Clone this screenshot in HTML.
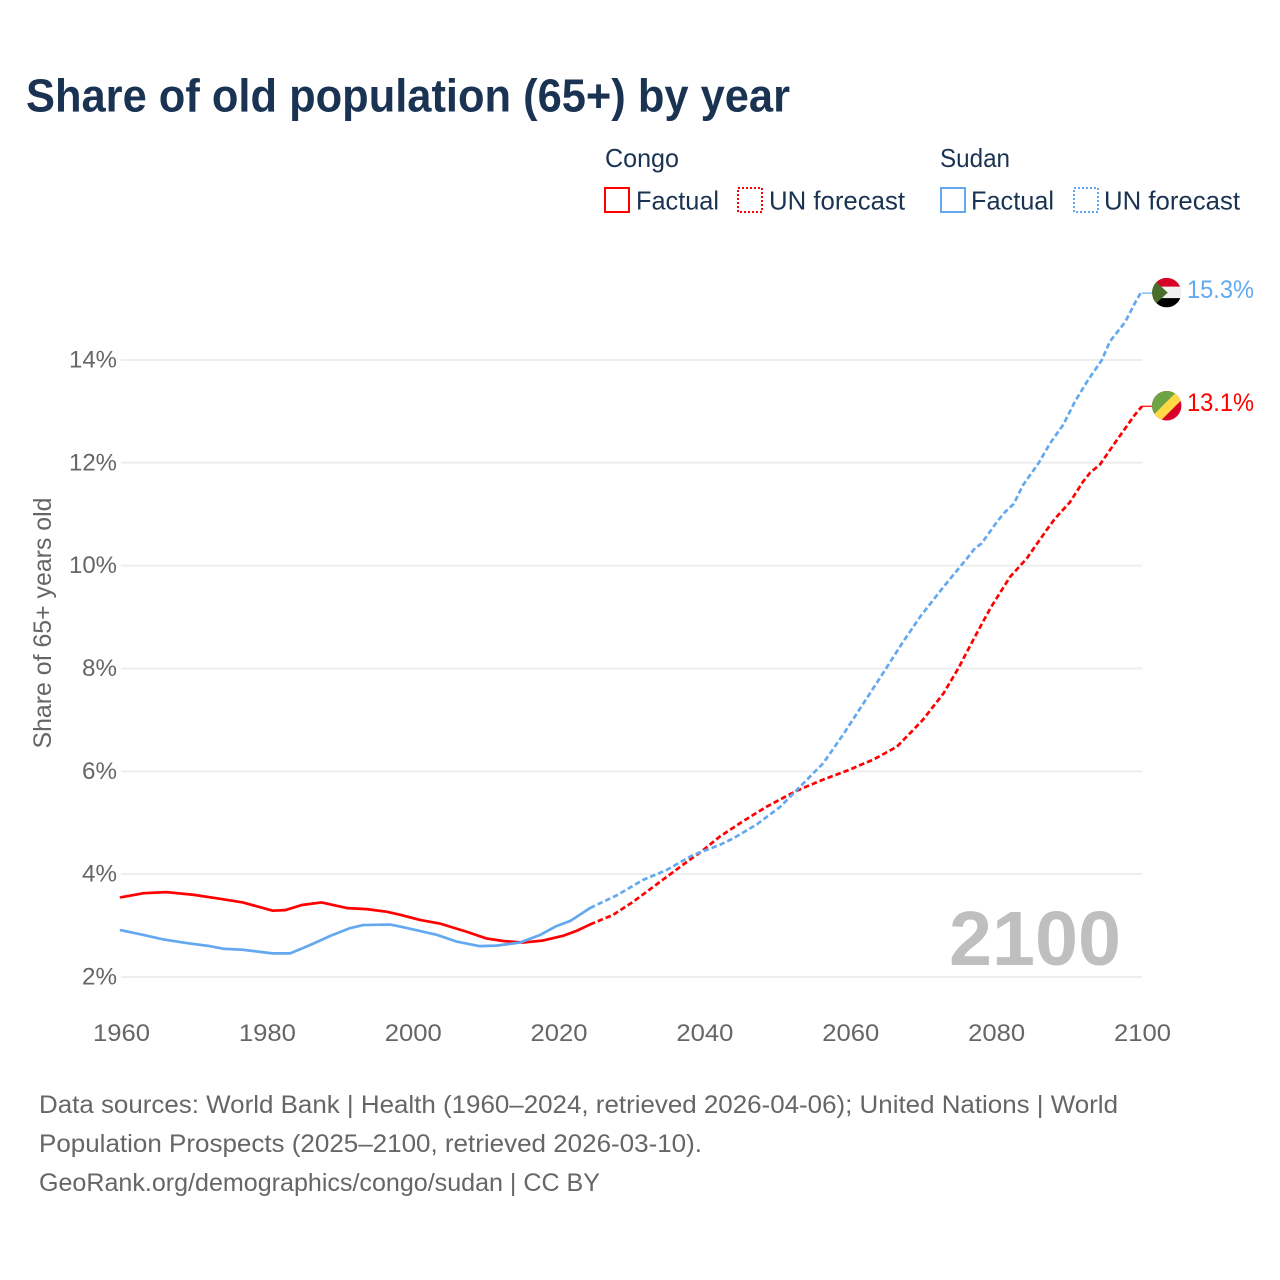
<!DOCTYPE html>
<html lang="en">
<head>
<meta charset="utf-8">
<title>Share of old population (65+) by year</title>
<style>
html,body{margin:0;padding:0;background:#fff;}
svg{display:block;font-family:"Liberation Sans",sans-serif;}
</style>
</head>
<body>
<svg id="chart" width="1280" height="1280" viewBox="0 0 1280 1280" xmlns="http://www.w3.org/2000/svg">
  <rect x="0" y="0" width="1280" height="1280" fill="#ffffff"/>
  <text x="26" y="111.5" font-size="46" font-weight="700" fill="#1a3352" textLength="764" lengthAdjust="spacingAndGlyphs">Share of old population (65+) by year</text>

  <g font-size="26" fill="#1a3352">
    <text x="605" y="167" textLength="74" lengthAdjust="spacingAndGlyphs">Congo</text>
    <rect x="605" y="188" width="24" height="24" fill="none" stroke="#ff0000" stroke-width="2"/>
    <text x="636" y="209.5" textLength="83" lengthAdjust="spacingAndGlyphs">Factual</text>
    <rect x="738" y="188" width="24" height="24" fill="none" stroke="#ff0000" stroke-width="2" stroke-dasharray="2 2"/>
    <text x="769" y="209.5" textLength="136" lengthAdjust="spacingAndGlyphs">UN forecast</text>
    <text x="940" y="167" textLength="70" lengthAdjust="spacingAndGlyphs">Sudan</text>
    <rect x="941" y="188" width="24" height="24" fill="none" stroke="#64a9f0" stroke-width="2"/>
    <text x="971" y="209.5" textLength="83" lengthAdjust="spacingAndGlyphs">Factual</text>
    <rect x="1074" y="188" width="24" height="24" fill="none" stroke="#64a9f0" stroke-width="2" stroke-dasharray="2 2"/>
    <text x="1104" y="209.5" textLength="136" lengthAdjust="spacingAndGlyphs">UN forecast</text>
  </g>

  <g id="grid"></g>
  <g id="yticks" font-size="24" fill="#666666" text-anchor="end"></g>
  <g id="xticks" font-size="24" fill="#666666" text-anchor="middle"></g>

  <text transform="translate(51,623) rotate(-90)" font-size="25" fill="#666666" text-anchor="middle" textLength="251" lengthAdjust="spacingAndGlyphs">Share of 65+ years old</text>

  <text x="949" y="965" font-size="77" font-weight="700" fill="#bfbfbf" textLength="172" lengthAdjust="spacingAndGlyphs">2100</text>

  <g id="series"></g>

  <defs>
    <clipPath id="flag-clip"><circle cx="0" cy="0" r="14.7"/></clipPath>
  </defs>
  <g id="flag-sudan">
    <g clip-path="url(#flag-clip)">
      <rect x="-15" y="-15" width="30" height="30" fill="#f0f0f0"/>
      <rect x="-15" y="-15" width="30" height="9" fill="#d80027"/>
      <rect x="-15" y="5.5" width="30" height="10" fill="#000000"/>
      <polygon points="-15,-15 1,0 -15,15" fill="#496e2d"/>
    </g>
  </g>
  <g id="flag-congo">
    <g clip-path="url(#flag-clip)">
      <rect x="-15" y="-15" width="30" height="30" fill="#d80027"/>
      <polygon points="-15,-15 15,-15 -15,15" fill="#6da544"/>
      <polygon points="13,-15 15,-15 15,-6 -6,15 -15,15 -15,11 11,-15" fill="#ffda44"/>
    </g>
  </g>
  <text id="label-sudan" x="1187" font-size="25" fill="#64a9f0" textLength="67" lengthAdjust="spacingAndGlyphs"></text>
  <text id="label-congo" x="1187" font-size="25" fill="#ff0000" textLength="67" lengthAdjust="spacingAndGlyphs"></text>

  <g font-size="25" fill="#666666">
    <text x="39" y="1113" textLength="1079" lengthAdjust="spacingAndGlyphs">Data sources: World Bank | Health (1960–2024, retrieved 2026-04-06); United Nations | World</text>
    <text x="39" y="1152" textLength="663" lengthAdjust="spacingAndGlyphs">Population Prospects (2025–2100, retrieved 2026-03-10).</text>
    <text x="39" y="1191" textLength="561" lengthAdjust="spacingAndGlyphs">GeoRank.org/demographics/congo/sudan | CC BY</text>
  </g>
</svg>
<script>
const yTickValues = [2, 4, 6, 8, 10, 12, 14];
const xTickValues = [1960, 1980, 2000, 2020, 2040, 2060, 2080, 2100];

const congoFactualYears = [1960, 1963.1, 1966.3, 1969.9, 1973.6, 1976.7, 1980.8, 1982.5, 1984.8, 1987.5, 1991, 1993.7, 1996.4, 1998.3, 2001, 2003.7, 2007.4, 2010.1, 2012.4, 2015.1, 2017.9, 2020.6, 2022.5, 2024.3];
const congoFactualValues = [3.55, 3.63, 3.65, 3.60, 3.52, 3.45, 3.29, 3.30, 3.40, 3.45, 3.34, 3.32, 3.27, 3.21, 3.11, 3.04, 2.88, 2.75, 2.70, 2.67, 2.71, 2.80, 2.90, 3.02];
const congoForecastYears = [2024.3, 2027.5, 2030.2, 2033.9, 2037.6, 2039.4, 2042.1, 2045.3, 2048.5, 2052.6, 2056.3, 2059.5, 2063.2, 2066.4, 2068.6, 2070, 2072.8, 2074.8, 2077.1, 2079.2, 2081.9, 2084.2, 2086.9, 2088.1, 2090.1, 2091.9, 2092.9, 2094.2, 2096.1, 2097.7, 2099, 2100];
const congoForecastValues = [3.02, 3.21, 3.46, 3.85, 4.24, 4.42, 4.73, 5.03, 5.31, 5.62, 5.84, 6.01, 6.23, 6.48, 6.80, 7.01, 7.52, 8.00, 8.62, 9.17, 9.78, 10.14, 10.69, 10.92, 11.23, 11.63, 11.81, 11.96, 12.35, 12.67, 12.93, 13.1];

const sudanFactualYears = [1960, 1963, 1965.8, 1969, 1972.2, 1974, 1976.7, 1980.8, 1983.2, 1985.9, 1988.7, 1991.4, 1993.2, 1996.9, 1998.3, 2000.5, 2003.3, 2006, 2009.2, 2011.5, 2014.7, 2017.5, 2019.7, 2021.6, 2024.3];
const sudanFactualValues = [2.91, 2.82, 2.73, 2.66, 2.60, 2.55, 2.53, 2.46, 2.46, 2.62, 2.80, 2.95, 3.01, 3.02, 2.98, 2.91, 2.82, 2.69, 2.60, 2.61, 2.67, 2.82, 2.99, 3.09, 3.34];
const sudanForecastYears = [2024.3, 2028, 2031.6, 2034.8, 2038.4, 2042.1, 2044, 2047.2, 2050.4, 2053.1, 2056.3, 2059, 2061.8, 2064.5, 2067.2, 2069.6, 2072.8, 2076, 2077.1, 2078, 2080.1, 2081.2, 2082.4, 2083.7, 2085.8, 2087.4, 2089.2, 2090.8, 2092.6, 2094.5, 2095.6, 2097.7, 2099, 2099.8, 2100];
const sudanForecastValues = [3.34, 3.59, 3.89, 4.08, 4.37, 4.57, 4.70, 4.97, 5.31, 5.70, 6.16, 6.71, 7.32, 7.91, 8.51, 9.01, 9.59, 10.14, 10.34, 10.43, 10.85, 11.04, 11.20, 11.57, 11.99, 12.38, 12.74, 13.19, 13.61, 14.00, 14.36, 14.74, 15.10, 15.30, 15.3];

const NS = 'http://www.w3.org/2000/svg';
const plotLeft = 121, plotRight = 1142;
function xScale(year) { return plotLeft + (year - 1960) * (plotRight - plotLeft) / 140; }
function yScale(value) { return 977 - (value - 2) * 51.42; }
function make(tag, attrs) {
  const el = document.createElementNS(NS, tag);
  for (const k in attrs) el.setAttribute(k, attrs[k]);
  return el;
}
function linePath(years, values) {
  return years.map(function (yr, i) {
    return (i ? 'L' : 'M') + xScale(yr).toFixed(2) + ' ' + yScale(values[i]).toFixed(2);
  }).join(' ');
}

const grid = document.getElementById('grid');
const yticks = document.getElementById('yticks');
yTickValues.forEach(function (v) {
  const line = make('line', { x1: plotLeft, x2: plotRight, y1: yScale(v), y2: yScale(v), stroke: '#eeeeee', 'stroke-width': 2 });
  
  
  grid.appendChild(line);
  const label = make('text', { x: 117, y: yScale(v) + 7.5, textLength: v >= 10 ? 48 : 35, lengthAdjust: 'spacingAndGlyphs' });
  
  
  label.textContent = v + '%';
  yticks.appendChild(label);
});

const xticks = document.getElementById('xticks');
xTickValues.forEach(function (yr) {
  const label = make('text', { x: xScale(yr) + 0.5, y: 1041, textLength: 57, lengthAdjust: 'spacingAndGlyphs' });
  
  
  label.textContent = yr;
  xticks.appendChild(label);
});

const seriesGroup = document.getElementById('series');
const flagEdge = 1152;
function drawSeries(name, color, fy, fv, py, pv) {
  const solid = make('path', { d: linePath(fy, fv), fill: 'none', stroke: color, 'stroke-width': 2.7, 'stroke-linejoin': 'round', 'stroke-linecap': 'round' });
  
  
  seriesGroup.appendChild(solid);
  const dashed = make('path', { d: linePath(py, pv), fill: 'none', stroke: color, 'stroke-width': 2.7, 'stroke-linejoin': 'round', 'stroke-dasharray': '5.5 3' });
  
  
  seriesGroup.appendChild(dashed);
  const last = pv[pv.length - 1];
  const tail = make('line', { x1: xScale(py[py.length - 1]), x2: flagEdge, y1: yScale(last), y2: yScale(last), stroke: color, 'stroke-width': 1.2 });
  
  
  seriesGroup.appendChild(tail);
}
drawSeries('congo', '#ff0000', congoFactualYears, congoFactualValues, congoForecastYears, congoForecastValues);
drawSeries('sudan', '#64a9f0', sudanFactualYears, sudanFactualValues, sudanForecastYears, sudanForecastValues);

function placeEnd(flagId, labelId, value) {
  const y = yScale(value);
  document.getElementById(flagId).setAttribute('transform', 'translate(1166.7,' + (y - 0.5).toFixed(2) + ')');
  const label = document.getElementById(labelId);
  label.setAttribute('y', (y + 5).toFixed(2));
  label.textContent = value.toFixed(1) + '%';
}
placeEnd('flag-sudan', 'label-sudan', sudanForecastValues[sudanForecastValues.length - 1]);
placeEnd('flag-congo', 'label-congo', congoForecastValues[congoForecastValues.length - 1]);
</script>
</body>
</html>
